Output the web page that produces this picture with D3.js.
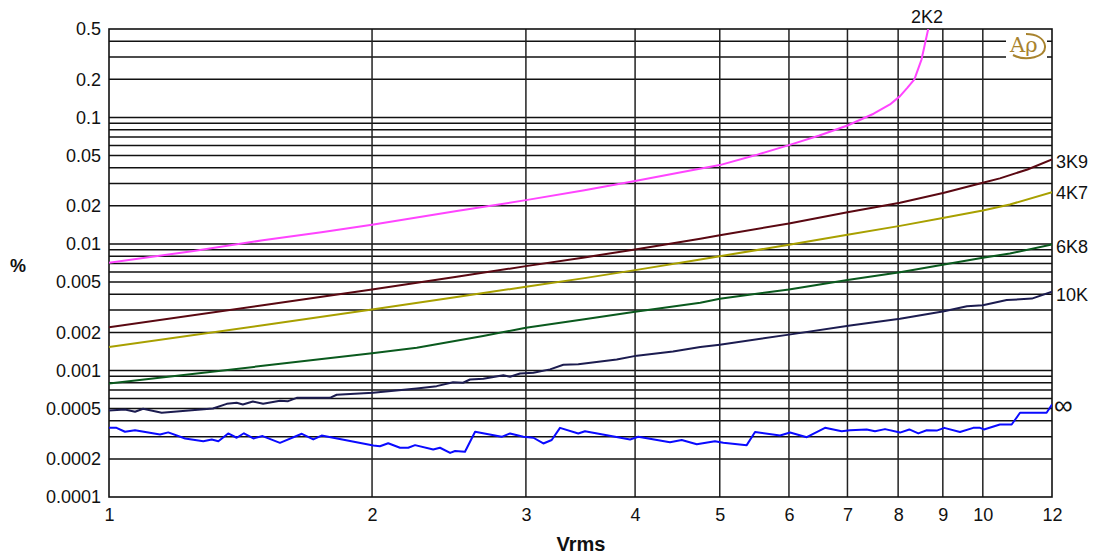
<!DOCTYPE html>
<html><head><meta charset="utf-8">
<script src="https://cdn.jsdelivr.net/npm/d3@7"></script>
<style>
html,body{margin:0;padding:0;background:#fff;}
svg text{font-family:"Liberation Sans",Arial,sans-serif;}
</style></head>
<body>
<svg id="c" width="1098" height="554"></svg>
<script>
// ---- data (Vrms, %) ----
const s2K2 = [[1,0.0071],[1.25,0.0088],[1.5,0.0107],[1.75,0.0124],[2,0.0142],[2.5,0.0182],[3,0.0222],[3.5,0.0266],[4,0.0314],[4.5,0.0367],[5,0.042],[5.5,0.0504],[6,0.0604],[6.5,0.0719],[7,0.0864],[7.5,0.107],[7.83,0.1267],[8.04,0.1474],[8.2,0.172],[8.35,0.2],[8.51,0.288],[8.66,0.5]];
const s3K9 = [[1,0.0022],[1.5,0.00328],[2,0.00437],[2.5,0.0055],[3,0.00668],[3.5,0.00783],[4,0.00905],[4.75,0.011],[5,0.01174],[6,0.01452],[7,0.01784],[8.04,0.0212],[9.03,0.0254],[10,0.0305],[10.46,0.033],[11.25,0.0388],[12,0.0466]];
const s4K7 = [[1,0.00153],[1.5,0.00228],[2,0.00303],[2.5,0.00381],[3,0.00459],[3.5,0.00537],[4,0.00621],[4.75,0.00754],[5,0.0080],[6,0.00986],[7,0.01183],[8.04,0.0139],[9.03,0.0161],[10,0.0184],[10.74,0.0205],[12,0.0257]];
const s6K8 = [[1,0.000789],[1.5,0.001088],[2,0.00137],[2.25,0.00151],[2.68,0.00187],[3,0.00218],[3.5,0.00254],[4,0.00291],[4.75,0.00343],[5,0.00369],[6,0.00437],[7,0.00518],[8.04,0.00598],[9.03,0.00689],[10,0.00778],[10.74,0.00841],[12,0.0099]];
const s10K = [[1,0.000483],[1.043,0.000492],[1.071,0.000472],[1.094,0.000498],[1.149,0.000463],[1.315,0.000501],[1.364,0.000545],[1.40,0.000555],[1.423,0.000539],[1.461,0.000569],[1.501,0.000545],[1.569,0.000576],[1.603,0.000572],[1.64,0.000608],[1.79,0.000608],[1.822,0.000643],[2.005,0.000667],[2.25,0.000721],[2.371,0.000752],[2.476,0.000808],[2.542,0.0008],[2.589,0.000849],[2.682,0.000859],[2.827,0.000918],[2.877,0.000891],[2.954,0.000946],[3.06,0.00096],[3.197,0.00102],[3.311,0.00111],[3.444,0.00112],[3.811,0.00122],[4.02,0.00131],[4.42,0.00141],[4.75,0.00153],[5,0.0016],[6,0.00192],[7.05,0.00227],[8.04,0.00256],[9.03,0.00294],[9.59,0.00322],[10,0.00328],[10.65,0.0036],[11.38,0.0037],[12,0.00419]];
const sInf = [[1,0.000352],[1.02,0.000352],[1.043,0.000328],[1.071,0.000337],[1.144,0.000312],[1.169,0.000324],[1.222,0.00029],[1.282,0.000276],[1.311,0.000285],[1.334,0.000276],[1.369,0.000318],[1.40,0.000294],[1.427,0.000319],[1.463,0.00029],[1.499,0.000303],[1.569,0.000268],[1.662,0.000316],[1.713,0.000285],[1.751,0.000306],[2.007,0.000255],[2.042,0.000252],[2.087,0.000266],[2.153,0.000245],[2.20,0.000245],[2.24,0.000257],[2.35,0.000237],[2.392,0.000245],[2.457,0.000223],[2.489,0.000231],[2.555,0.000228],[2.624,0.000328],[2.814,0.000299],[2.877,0.000318],[2.98,0.000299],[3.06,0.000294],[3.141,0.000265],[3.211,0.000282],[3.282,0.000352],[3.444,0.000318],[3.505,0.000331],[3.948,0.000285],[4.034,0.000299],[4.385,0.000271],[4.523,0.000282],[4.706,0.000261],[4.937,0.000276],[5.047,0.000268],[5.368,0.000257],[5.487,0.000326],[5.861,0.000306],[6.018,0.000323],[6.288,0.000297],[6.598,0.000352],[6.895,0.000331],[7.047,0.000337],[7.364,0.000342],[7.527,0.000331],[7.728,0.000344],[8.04,0.000323],[8.239,0.000342],[8.437,0.000318],[8.626,0.000337],[8.856,0.000335],[9.035,0.000352],[9.416,0.000326],[9.752,0.000352],[9.926,0.000352],[10.03,0.000342],[10.46,0.000374],[10.79,0.000374],[11.03,0.000463],[11.83,0.000463],[12,0.000538]];

const seriesNames = ["2K2","3K9","4K7","6K8","10K","\u221E"];
const seriesData = [s2K2,s3K9,s4K7,s6K8,s10K,sInf];
const seriesColors = ["#ff44ff","#5a0812","#a8a000","#0a5a1e","#1c1c50","#0a0aff"];

const xTickValues = [1,2,3,4,5,6,7,8,9,10,12];
const xTickLabels = ["1","2","3","4","5","6","7","8","9","10","12"];
const yTickValues = [0.0001,0.0002,0.0005,0.001,0.002,0.005,0.01,0.02,0.05,0.1,0.2,0.5];
const yTickLabels = ["0.0001","0.0002","0.0005","0.001","0.002","0.005","0.01","0.02","0.05","0.1","0.2","0.5"];
const xGridValues = [2,3,4,5,6,7,8,9,10];
const yGridValues = [0.0002,0.0003,0.0004,0.0005,0.0006,0.0007,0.0008,0.0009,0.001,0.002,0.003,0.004,0.005,0.006,0.007,0.008,0.009,0.01,0.02,0.03,0.04,0.05,0.06,0.07,0.08,0.09,0.1,0.2,0.3,0.4];

// ---- layout ----
const L=109, R=1052, T=29, B=497;
const x = d3.scaleLog().domain([1,12]).range([L,R]);
const y = d3.scaleLog().domain([0.0001,0.5]).range([B,T]);
const svg = d3.select("#c");

svg.append("defs").append("clipPath").attr("id","plot")
  .append("rect").attr("x",L).attr("y",T).attr("width",R-L).attr("height",B-T);

// grid
const g = svg.append("g");
g.selectAll("line.h").data(yGridValues).join("line").attr("class","h")
  .attr("x1",L).attr("x2",R).attr("y1",d=>y(d)).attr("y2",d=>y(d))
  .attr("stroke","#111").attr("stroke-width",1.5);
g.selectAll("line.v").data(xGridValues).join("line").attr("class","v")
  .attr("y1",T).attr("y2",B).attr("x1",d=>x(d)).attr("x2",d=>x(d))
  .attr("stroke","#222").attr("stroke-width",1.5);

// logo
const lg = svg.append("g");
lg.append("rect").attr("x",1006).attr("y",32).attr("width",41).attr("height",29).attr("fill","#fff");
lg.append("path").attr("d","M1013,55 C1026,62 1046,57 1045,46 C1044,38 1036,34 1026,34")
  .attr("fill","none").attr("stroke","#a8832e").attr("stroke-width",2);
lg.append("text").attr("x",1010).attr("y",52).attr("font-size",21)
  .attr("fill","#a8832e").style("font-family","'DejaVu Serif',serif").text("A\u03C1");

// frame
svg.append("rect").attr("x",L).attr("y",T).attr("width",R-L).attr("height",B-T)
  .attr("fill","none").attr("stroke","#111").attr("stroke-width",1.6);

// series
const line = d3.line().x(d=>x(d[0])).y(d=>y(d[1]));
const sg = svg.append("g").attr("clip-path","url(#plot)");
seriesData.forEach((s,i)=>{
  sg.append("path").datum(s).attr("d",line).attr("fill","none")
    .attr("stroke",seriesColors[i]).attr("stroke-width",2).attr("stroke-linejoin","round");
});

// axes
const yAxis = d3.axisLeft(y).tickValues(yTickValues).tickSize(0).tickPadding(8)
  .tickFormat((d,i)=>yTickLabels[i]);
const ya = svg.append("g").attr("transform",`translate(${L},0)`).call(yAxis);
ya.select(".domain").remove();
ya.selectAll("text").attr("font-size",18).attr("fill","#111").style("font-family","'Liberation Sans',Arial,sans-serif");

const xAxis = d3.axisBottom(x).tickValues(xTickValues).tickSize(0).tickPadding(11)
  .tickFormat((d,i)=>xTickLabels[i]);
const xa = svg.append("g").attr("transform",`translate(0,${B})`).call(xAxis);
xa.select(".domain").remove();
xa.selectAll("text").attr("font-size",18).attr("fill","#111").style("font-family","'Liberation Sans',Arial,sans-serif");

// axis titles
svg.append("text").attr("x",581).attr("y",551).attr("text-anchor","middle")
  .attr("font-size",20).attr("font-weight","bold").attr("fill","#111").text("Vrms");
svg.append("text").attr("x",18).attr("y",272).attr("text-anchor","middle")
  .attr("font-size",18).attr("font-weight","bold").attr("fill","#111").text("%");

// series labels
const labelPos = [[927,23,"middle",18],[1056,168,"start",18],[1056,199,"start",18],[1056,253,"start",18],[1056,301,"start",18],[1054,414,"start",26]];
seriesNames.forEach((n,i)=>{
  svg.append("text").attr("x",labelPos[i][0]).attr("y",labelPos[i][1])
    .attr("text-anchor",labelPos[i][2]).attr("font-size",labelPos[i][3]).attr("fill","#111").text(n);
});
</script>
</body></html>
